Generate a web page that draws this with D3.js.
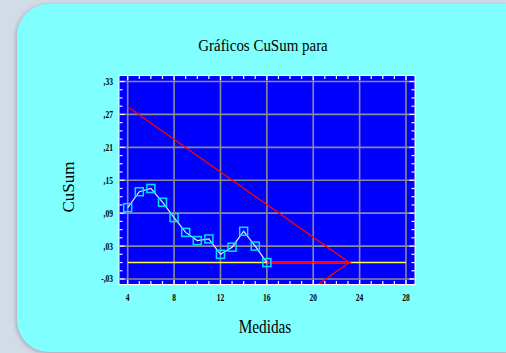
<!DOCTYPE html>
<html>
<head>
<meta charset="utf-8">
<script src="https://cdn.jsdelivr.net/npm/d3@7/dist/d3.min.js"></script>
<style>
  html, body { margin: 0; padding: 0; background: #d3dbe8; }
  svg { display: block; }
</style>
</head>
<body>
<script>
// ---- data ----
const measures = [4, 5, 6, 7, 8, 9, 10, 11, 12, 13, 14, 15, 16];
const cusum = [0.100, 0.129, 0.135, 0.110, 0.082, 0.055, 0.040, 0.043, 0.015, 0.028, 0.057, 0.030, 0.000];
const maskVertex = [23.1, 0];
const maskUpperEnd = [4, 0.284];
const maskLowerEnd = [4, -0.284];
const xTicks = [4, 8, 12, 16, 20, 24, 28];
const yTicks = [-0.03, 0.03, 0.09, 0.15, 0.21, 0.27, 0.33];
const yTickLabels = ["-,03", ",03", ",09", ",15", ",21", ",27", ",33"];
const titleText = "Gráficos CuSum para";
const xTitle = "Medidas";
const yTitle = "CuSum";

const W = 506, H = 353;
const svg = d3.select("body").append("svg").attr("width", W).attr("height", H);

const defs = svg.append("defs");
const f = defs.append("filter").attr("id", "sh").attr("x", "-10%").attr("y", "-10%").attr("width", "120%").attr("height", "120%");
f.append("feDropShadow").attr("dx", -1).attr("dy", 1).attr("stdDeviation", 2).attr("flood-color", "#7a8090").attr("flood-opacity", 0.6);

// panel
svg.append("rect").attr("x", 17).attr("y", 4).attr("width", 520).attr("height", 348)
  .attr("rx", 32).attr("ry", 32).attr("fill", "#80ffff").attr("filter", "url(#sh)");

// scales
const x = d3.scaleLinear().domain([4, 28]).range([127.7, 406]);
const y = d3.scaleLinear().domain([-0.03, 0.33]).range([279, 81.5]);
const xmin = x.invert(119.5), xmax = x.invert(414.5);
const ymin = y.invert(284), ymax = y.invert(76);

const g = svg.append("g");
const px0 = x(xmin), px1 = x(xmax), py0 = y(ymax), py1 = y(ymin);

// white frame + blue plot
g.append("rect").attr("x", px0 - 1).attr("y", py0 - 1).attr("width", px1 - px0 + 2).attr("height", py1 - py0 + 2)
  .attr("fill", "#ffffff");
g.append("rect").attr("x", px0).attr("y", py0).attr("width", px1 - px0).attr("height", py1 - py0)
  .attr("fill", "#0000ff");

defs.append("clipPath").attr("id", "clip").append("rect")
  .attr("x", px0).attr("y", py0).attr("width", px1 - px0).attr("height", py1 - py0);

// grid
g.selectAll("line.vg").data(xTicks).join("line")
  .attr("x1", d => x(d)).attr("x2", d => x(d)).attr("y1", py0).attr("y2", py1)
  .attr("stroke", "#8a8a9a").attr("stroke-width", 1.6);
g.selectAll("line.hg").data(yTicks).join("line")
  .attr("y1", d => y(d)).attr("y2", d => y(d)).attr("x1", px0).attr("x2", px1)
  .attr("stroke", "#8a8a9a").attr("stroke-width", 1.6);

// inner ticks (minor + major)
const xMinor = d3.range(4, 29, 1);
const yMinor = d3.range(-0.03, 0.3301, 0.015);
const tickG = g.append("g").attr("stroke", "#ffffff").attr("stroke-width", 1.2);
xMinor.forEach(v => {
  const len = (v % 4 === 0) ? 4 : 3;
  tickG.append("line").attr("x1", x(v)).attr("x2", x(v)).attr("y1", py1).attr("y2", py1 - len);
  tickG.append("line").attr("x1", x(v)).attr("x2", x(v)).attr("y1", py0).attr("y2", py0 + len);
});
yMinor.forEach((v, i) => {
  const len = (i % 4 === 0) ? 5 : 3;
  tickG.append("line").attr("y1", y(v)).attr("y2", y(v)).attr("x1", px0).attr("x2", px0 + len);
  tickG.append("line").attr("y1", y(v)).attr("y2", y(v)).attr("x1", px1).attr("x2", px1 - len);
});

const plot = g.append("g").attr("clip-path", "url(#clip)");

// zero line (yellow)
plot.append("line").attr("x1", x(4)).attr("x2", x(28)).attr("y1", y(0)).attr("y2", y(0))
  .attr("stroke", "#ffff40").attr("stroke-width", 1.6);

// V-mask (red)
const last = [measures[measures.length - 1], cusum[cusum.length - 1]];
const line = d3.line().x(d => x(d[0])).y(d => y(d[1]));
plot.append("path").datum([maskUpperEnd, maskVertex, maskLowerEnd]).attr("d", line)
  .attr("fill", "none").attr("stroke", "#ff0000").attr("stroke-width", 1.4);
plot.append("path").datum([last, maskVertex]).attr("d", line)
  .attr("fill", "none").attr("stroke", "#ff0000").attr("stroke-width", 1.6);
plot.append("circle").attr("cx", x(maskVertex[0])).attr("cy", y(maskVertex[1])).attr("r", 1.8).attr("fill", "#ff0000");

// cusum series
const pts = measures.map((m, i) => [m, cusum[i]]);
plot.append("path").datum(pts).attr("d", line).attr("fill", "none")
  .attr("stroke", "#e8e8ff").attr("stroke-width", 1.2);
plot.selectAll("rect.pt").data(pts).join("rect")
  .attr("x", d => x(d[0]) - 4).attr("y", d => y(d[1]) - 4).attr("width", 8).attr("height", 8)
  .attr("fill", "none").attr("stroke", "#00e0ff").attr("stroke-width", 1.5);

// axis labels
const lblFont = "'Liberation Serif', 'DejaVu Serif', serif";
g.selectAll("text.xl").data(xTicks).join("text")
  .attr("x", d => x(d)).attr("y", 301).attr("text-anchor", "middle")
  .attr("font-family", lblFont).attr("font-size", 10).attr("font-weight", "bold")
  .attr("transform", d => `translate(${x(d)},0) scale(0.75,1) translate(${-x(d)},0)`)
  .attr("fill", "#000").text(d => d);
g.selectAll("text.yl").data(yTicks).join("text")
  .attr("x", 113).attr("y", d => y(d) + 3.5).attr("text-anchor", "end")
  .attr("font-family", lblFont).attr("font-size", 10).attr("font-weight", "bold")
  .attr("transform", "translate(113,0) scale(0.75,1) translate(-113,0)")
  .attr("fill", "#000").text((d, i) => yTickLabels[i]);

// titles
svg.append("text").attr("x", 263).attr("y", 51).attr("text-anchor", "middle")
  .attr("font-family", lblFont).attr("font-size", 17)
  .attr("transform", "translate(263,0) scale(0.88,1) translate(-263,0)")
  .attr("fill", "#000").text(titleText);
svg.append("text").attr("x", 265).attr("y", 333).attr("text-anchor", "middle")
  .attr("font-family", lblFont).attr("font-size", 18)
  .attr("transform", "translate(265,0) scale(0.85,1) translate(-265,0)")
  .attr("fill", "#000").text(xTitle);
svg.append("text").attr("transform", "translate(74,187) rotate(-90) scale(1,1)")
  .attr("text-anchor", "middle").attr("font-family", lblFont).attr("font-size", 17)
  .attr("fill", "#000").text(yTitle);
</script>
</body>
</html>
